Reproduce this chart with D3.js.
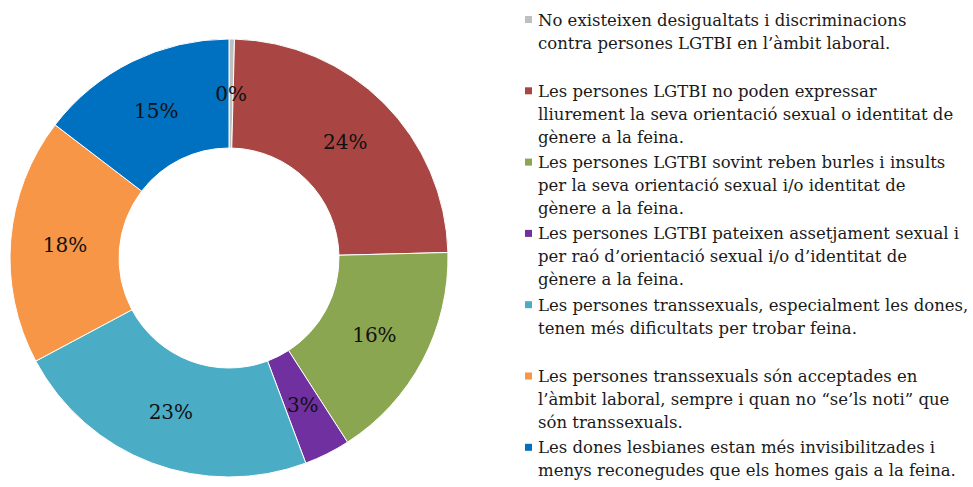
<!DOCTYPE html>
<html>
<head>
<meta charset="utf-8">
<script src="https://cdn.jsdelivr.net/npm/d3@7"></script>
<style>
  html, body { margin: 0; padding: 0; background: #fff; }
  svg { display: block; }
  .slice-label { font-family: Georgia, "DejaVu Serif", serif; font-size: 20px; fill: #111; }
  .legend-text { font-family: Georgia, "DejaVu Serif", serif; font-size: 16.5px; fill: #1a1a1a; }
</style>
</head>
<body>
<div id="chart"></div>
<script>
// share of answers per statement (percent)
const categories = [
  "No existeixen desigualtats",
  "No poden expressar",
  "Burles i insults",
  "Assetjament sexual",
  "Transsexuals feina",
  "Transsexuals acceptades",
  "Dones lesbianes"
];
const values = [0.4, 24.2, 16.3, 3.4, 22.9, 18.2, 14.6];
const colors = ["#bfbfbf", "#a94643", "#8ba650", "#7030a0", "#4bacc6", "#f79646", "#0070c0"];

// legend text, broken into lines as in the original
const legendLines = [
  ["No existeixen desigualtats i discriminacions", "contra persones LGTBI en l\u2019àmbit laboral."],
  ["Les persones LGTBI no poden expressar", "lliurement la seva orientació sexual o identitat de", "gènere a la feina."],
  ["Les persones LGTBI sovint reben burles i insults", "per la seva orientació sexual i/o identitat de", "gènere a la feina."],
  ["Les persones LGTBI pateixen assetjament sexual i", "per raó d\u2019orientació sexual i/o d\u2019identitat de", "gènere a la feina."],
  ["Les persones transsexuals, especialment les dones,", "tenen més dificultats per trobar feina."],
  ["Les persones transsexuals són acceptades en", "l\u2019àmbit laboral, sempre i quan no \u201cse\u2019ls noti\u201d que", "són transsexuals."],
  ["Les dones lesbianes estan més invisibilitzades i", "menys reconegudes que els homes gais a la feina."]
];

const width = 973, height = 487;
const cx = 229, cy = 258;
const outerR = 219, innerR = 110;

const svg = d3.select("#chart").append("svg")
  .attr("width", width).attr("height", height);

const total = d3.sum(values);
const data = values.map((v, i) => ({ name: categories[i], value: v, color: colors[i] }));

const pie = d3.pie().value(d => d.value).sort(null);
const arc = d3.arc().innerRadius(innerR).outerRadius(outerR);
const labelArc = d3.arc().innerRadius((innerR + outerR) / 2).outerRadius((innerR + outerR) / 2);

const g = svg.append("g").attr("transform", `translate(${cx},${cy})`);
const arcs = pie(data);

g.selectAll("path").data(arcs).join("path")
  .attr("d", arc)
  .attr("fill", d => d.data.color)
  .attr("stroke", "#fff")
  .attr("stroke-width", 1);

g.selectAll("text").data(arcs).join("text")
  .attr("class", "slice-label")
  .attr("transform", d => `translate(${labelArc.centroid(d)})`)
  .attr("text-anchor", "middle")
  .attr("dominant-baseline", "central")
  .text(d => Math.round(d.data.value / total * 100) + "%");

// legend: one slot of three lines per entry
const legX = 525, legY = 20, lineH = 23, slotH = 71.3;
const leg = svg.append("g");
legendLines.forEach((lines, i) => {
  const y0 = legY + i * slotH;
  leg.append("rect")
    .attr("x", legX).attr("y", y0 - 4)
    .attr("width", 7).attr("height", 7)
    .attr("fill", colors[i]);
  const txt = leg.append("text").attr("class", "legend-text");
  lines.forEach((line, j) => {
    txt.append("tspan")
      .attr("x", legX + 13)
      .attr("y", y0 + j * lineH)
      .attr("dominant-baseline", "central")
      .text(line);
  });
});
</script>
</body>
</html>
